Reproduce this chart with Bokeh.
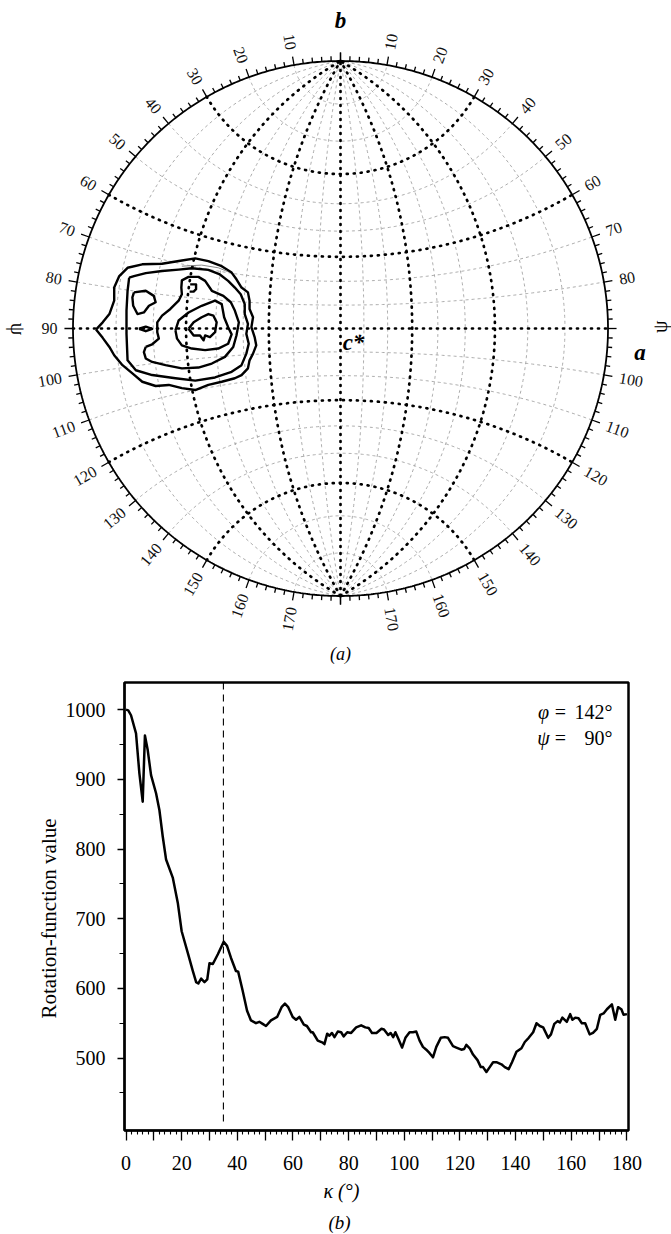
import numpy as np
from bokeh.plotting import figure
from bokeh.models import Label, FixedTicker, Range1d, Title
from bokeh.embed import file_html
from bokeh.resources import INLINE
from bokeh.core.properties import value

SERIF = "Liberation Serif"

# ---------------- (a) stereographic section : data ----------------
rim_labels = [10, 20, 30, 40, 50, 60, 70, 80, 90, 100, 110, 120, 130, 140, 150, 160, 170]
rim_major = list(range(0, 181, 10))
rim_minor = [t for t in range(0, 181, 2) if t % 10]
bold_meridians = [-60, -30, 0, 30, 60]
bold_parallels = [30, 60, 90, 120, 150]
fine_meridians = [m for m in range(-80, 81, 10) if m not in bold_meridians]
fine_parallels = [a for a in range(10, 171, 10) if a not in bold_parallels]

# contour traces (projection coordinates, primitive radius = 1)
c1_x = [-0.914, -0.889, -0.864, -0.846, -0.846, -0.827, -0.796, -0.741, -0.667, -0.593, -0.543, -0.494,
        -0.444, -0.407, -0.389, -0.370, -0.346, -0.340, -0.340, -0.327, -0.333, -0.321, -0.315, -0.327,
        -0.340, -0.346, -0.370, -0.395, -0.444, -0.494, -0.543, -0.593, -0.642, -0.691, -0.741, -0.778,
        -0.815, -0.846, -0.864, -0.889]
c1_y = [-0.004, 0.023, 0.054, 0.104, 0.153, 0.196, 0.227, 0.240, 0.242, 0.254, 0.262, 0.252,
        0.233, 0.209, 0.184, 0.153, 0.135, 0.104, 0.073, 0.042, 0.005, -0.032, -0.063, -0.094,
        -0.119, -0.149, -0.174, -0.186, -0.199, -0.211, -0.230, -0.223, -0.211, -0.215, -0.199, -0.168,
        -0.137, -0.100, -0.069, -0.035]
c2_x = [-0.790, -0.796, -0.800, -0.800, -0.796, -0.765, -0.704, -0.617, -0.543, -0.469, -0.407, -0.370,
        -0.352, -0.343, -0.352, -0.346, -0.358, -0.358, -0.373, -0.395, -0.420, -0.451, -0.494, -0.556,
        -0.605, -0.667, -0.728, -0.772]
c2_y = [0.190, 0.141, 0.067, -0.020, -0.119, -0.156, -0.174, -0.186, -0.195, -0.183, -0.162, -0.137,
        -0.094, -0.057, -0.020, 0.017, 0.054, 0.091, 0.128, 0.153, 0.178, 0.202, 0.219, 0.225,
        0.220, 0.215, 0.207, 0.196]
c3_x = [-0.728, -0.735, -0.728, -0.704, -0.654, -0.593, -0.531, -0.481, -0.432, -0.401, -0.389, -0.380,
        -0.395, -0.410, -0.438, -0.481, -0.506, -0.531, -0.568, -0.593, -0.595, -0.593, -0.605, -0.636,
        -0.667, -0.685, -0.685, -0.679, -0.704]
c3_y = [-0.069, -0.088, -0.112, -0.125, -0.137, -0.149, -0.146, -0.131, -0.106, -0.069, -0.026, 0.023,
        0.067, 0.098, 0.122, 0.141, 0.178, 0.193, 0.193, 0.180, 0.153, 0.128, 0.104, 0.073,
        0.048, 0.023, -0.014, -0.038, -0.059]
c4_x = [-0.617, -0.605, -0.568, -0.519, -0.469, -0.444, -0.435, -0.420, -0.407, -0.420, -0.457, -0.506,
        -0.556, -0.593, -0.611]
c4_y = [-0.007, 0.030, 0.060, 0.085, 0.104, 0.091, 0.042, 0.005, -0.022, -0.057, -0.075, -0.081,
        -0.075, -0.063, -0.038]
c5_x = [-0.568, -0.549, -0.519, -0.494, -0.475, -0.463, -0.469, -0.488, -0.506, -0.512, -0.525, -0.549]
c5_y = [-0.001, 0.023, 0.042, 0.054, 0.048, 0.023, -0.014, -0.032, -0.026, -0.044, -0.026, -0.026]
island_x = [-0.772, -0.728, -0.698, -0.691, -0.716, -0.735, -0.759, -0.775, -0.778]
island_y = [0.135, 0.141, 0.122, 0.098, 0.085, 0.060, 0.054, 0.085, 0.116]
diamond_x = [-0.753, -0.728, -0.704, -0.728]
diamond_y = [-0.001, 0.007, -0.001, -0.010]
hook_x = [-0.562, -0.540, -0.540, -0.549, -0.564]
hook_y = [0.165, 0.165, 0.147, 0.138, 0.138]
faint_x = [-0.593, -0.519, -0.457, -0.420]
faint_y = [0.233, 0.237, 0.227, 0.212]

# ---------------- (b) rotation function : data ----------------
kappa = [0, 0.8, 1.8, 3.6, 4.8, 6.0, 6.8, 7.8, 9.0, 10.8, 12.0, 13.2, 14.4, 16.8, 18.6, 20.0, 22.2, 24.0,
         25.2, 26.0, 27.0, 28.2, 29.2, 30.0, 31.2, 33.0, 35.1, 36.3, 37.7, 39.5, 40.3, 41.9, 43.5, 44.9,
         46.7, 47.9, 49.1, 50.3, 52.1, 54.3, 55.9, 57.1, 58.3, 59.9, 61.1, 62.3, 63.9, 65.0, 66.5,
         67.1, 68.9, 70.7, 71.3, 72.3, 73.1, 74.0, 74.9, 76.1, 77.3, 78.2, 79.5, 80.9, 82.7, 84.5, 86.0,
         87.2, 88.4, 90.0, 91.8, 92.7, 94.2, 95.1, 96.0, 96.8, 97.7, 99.2, 100.4, 101.9, 103.1, 104.3,
         105.5, 106.7, 107.9, 109.1, 110.3, 111.5, 113.1, 114.5, 115.7, 117.5, 118.7, 120.5, 121.5, 122.3,
         123.5, 124.7, 126.3, 127.5, 128.3, 129.5, 130.7, 131.9, 133.1, 134.9, 136.1, 137.5, 138.7, 140.3,
         142.1, 143.3, 144.7, 146.3, 147.5, 148.7, 149.9, 151.7, 152.7, 153.9, 155.1, 155.9, 156.8, 158.4,
         159.6, 160.4, 161.4, 162.6, 163.8, 165.0, 166.6, 167.8, 169.2, 170.4, 171.6, 172.8, 174.6, 175.8,
         176.8, 178.0, 178.8, 180.0]
rf_value = [1000, 999, 992, 966, 909, 868, 963, 942, 906, 880, 856, 818, 785, 759, 723, 682, 651, 625,
            609, 607, 614, 609, 613, 636, 635, 649, 667, 661, 644, 625, 624, 597, 568, 554,
            550, 552, 549, 546, 554, 559, 573, 578, 573, 559, 555, 559, 548, 546, 537,
            537, 525, 522, 520, 535, 532, 536, 530, 538, 537, 531, 537, 536, 544, 547, 544,
            543, 536, 536, 542, 541, 533, 536, 530, 537, 529, 515, 529, 537, 537, 538,
            525, 516, 512, 507, 501, 516, 529, 530, 529, 517, 515, 512, 513, 519,
            514, 505, 497, 487, 487, 480, 487, 494, 494, 491, 487, 484, 494, 509,
            514, 523, 529, 537, 550, 546, 544, 529, 534, 549, 553, 551, 558, 552,
            563, 555, 558, 557, 550, 550, 534, 536, 542, 562, 564, 570, 577, 555,
            573, 570, 562, 563]
phi_value = 142
psi_value = 90
kappa_marker = 35
x_major = list(range(0, 181, 10))
x_minor = list(range(0, 181, 2))
y_major = [500, 600, 700, 800, 900, 1000]
y_minor = [450, 550, 650, 750, 850, 950]

# ---------------- projection helpers ----------------
def stereo(x, y, z):
    return x / (1 + z), y / (1 + z)

def meridian(lam):
    ph = np.radians(np.linspace(-90, 90, 241))
    l = np.radians(lam)
    return stereo(np.cos(ph) * np.sin(l), np.sin(ph), np.cos(ph) * np.cos(l))

def parallel(alpha):
    t = np.radians(np.linspace(-90, 90, 241))
    a = np.radians(alpha)
    return stereo(np.sin(a) * np.sin(t), np.cos(a) * np.ones_like(t), np.sin(a) * np.cos(t))

def curves(mers, pars):
    xs, ys = [], []
    for m in mers:
        x, y = meridian(m); xs.append(list(x)); ys.append(list(y))
    for a in pars:
        x, y = parallel(a); xs.append(list(x)); ys.append(list(y))
    return xs, ys

# ---------------- figure (a) ----------------
S = 267.5
p1 = figure(width=671, height=670, x_range=Range1d(-340 / S, 331 / S), y_range=Range1d(-342 / S, 328 / S),
            output_backend="svg", toolbar_location=None, x_axis_location=None, y_axis_location=None,
            min_border=0)
p1.grid.visible = False
p1.outline_line_color = None

fx, fy = curves(fine_meridians, fine_parallels)
p1.multi_line(fx, fy, line_color="#a3a3a3", line_width=0.9, line_dash="3 3")
bx, by = curves(bold_meridians, bold_parallels)
p1.multi_line(bx, by, line_color="black", line_width=2.7, line_dash="1 6", line_cap="round")

th = np.radians(np.linspace(0, 360, 721))
p1.line(np.sin(th), np.cos(th), line_color="black", line_width=1.8)

def ticks(vals, length):
    t = np.radians(np.array(vals, dtype=float))
    x0, y0, x1, y1 = [], [], [], []
    for side in (-1, 1):
        x0 += list(side * np.sin(t)); y0 += list(np.cos(t))
        x1 += list(side * np.sin(t) * (1 + length)); y1 += list(np.cos(t) * (1 + length))
    return x0, y0, x1, y1

for vals, ln in ((rim_major, 0.032), (rim_minor, 0.018)):
    x0, y0, x1, y1 = ticks(vals, ln)
    p1.segment(x0, y0, x1, y1, line_color="black", line_width=1.3)

RL = 1.058
lt = np.radians(np.array(rim_labels, dtype=float))
p1.text(x=list(-RL * np.sin(lt)), y=list(RL * np.cos(lt)), text=[str(v) for v in rim_labels],
        angle=[v - 90 for v in rim_labels], angle_units="deg", text_align="right", text_baseline="middle",
        text_font=value(SERIF), text_font_size="16px", text_color="#111111")
right_labels = [v for v in rim_labels if v != 90]
rt = np.radians(np.array(right_labels, dtype=float))
p1.text(x=list(RL * np.sin(rt)), y=list(RL * np.cos(rt)), text=[str(v) for v in right_labels],
        angle=[90 - v for v in right_labels], angle_units="deg", text_align="left", text_baseline="middle",
        text_font=value(SERIF), text_font_size="16px", text_color="#111111")

def closed(a):
    return list(a) + [a[0]]

cx = [closed(c1_x), closed(c2_x), closed(c3_x), closed(c4_x), closed(c5_x), closed(island_x),
      closed(diamond_x), list(hook_x)]
cy = [closed(c1_y), closed(c2_y), closed(c3_y), closed(c4_y), closed(c5_y), closed(island_y),
      closed(diamond_y), list(hook_y)]
p1.multi_line(cx, cy, line_color="black", line_width=2.4, line_join="round")
p1.line(faint_x, faint_y, line_color="#888888", line_width=1.0)

def lab(p, x, y, t, size, style="normal", align="center", baseline="middle", angle=0.0):
    p.add_layout(Label(x=x, y=y, text=t, text_font=SERIF, text_font_size=size, text_font_style=style,
                       text_align=align, text_baseline=baseline, angle=angle, text_color="black"))

lab(p1, 0.0, 1.151, "b", "23px", "bold italic", baseline="alphabetic")
lab(p1, 1.12, -0.09, "a", "23px", "bold italic", baseline="alphabetic")
lab(p1, 0.008, -0.052, "c*", "23px", "bold italic", align="left", baseline="alphabetic")
lab(p1, -1.2056, -0.002, "ψ", "20px", angle=-np.pi / 2)
lab(p1, 1.196, 0.007, "ψ", "20px", angle=np.pi / 2)
lab(p1, 0.0, -1.215, "(a)", "18px", "italic")

# ---------------- figure (b) ----------------
p2 = figure(width=671, height=564, x_range=Range1d(-0.54, 180.56), y_range=Range1d(396, 1039),
            output_backend="svg", toolbar_location=None, min_border_left=124, min_border_right=43,
            min_border_top=12, min_border_bottom=102)
p2.grid.visible = False
p2.outline_line_color = "black"
p2.outline_line_width = 2.5
p2.title.visible = False

p2.xaxis.ticker = FixedTicker(ticks=x_major, minor_ticks=x_minor)
p2.xaxis.major_label_overrides = {t: "" for t in x_major if t % 20}
p2.yaxis.ticker = FixedTicker(ticks=y_major, minor_ticks=y_minor)
for ax, mj, mn, so in ((p2.xaxis, 10, 4, 15), (p2.yaxis, 7, 5, 12)):
    ax.major_tick_out = mj
    ax.major_tick_in = 0
    ax.minor_tick_out = mn
    ax.minor_tick_in = 0
    ax.axis_line_color = "black"
    ax.axis_line_width = 2
    ax.major_tick_line_color = "black"
    ax.minor_tick_line_color = "black"
    ax.major_tick_line_width = 1.3
    ax.minor_tick_line_width = 1.1
    ax.major_label_text_font = SERIF
    ax.major_label_text_font_size = "20px"
    ax.major_label_text_color = "black"
    ax.major_label_standoff = so

p2.line(kappa, rf_value, line_color="black", line_width=2.5, line_join="round")
p2.segment(x0=[kappa_marker], y0=[409], x1=[kappa_marker], y1=[1039], line_color="black",
           line_width=1.1, line_dash="7 5")

lab(p2, 150.0, 996, "φ", "20px", "italic")
lab(p2, 156.1, 996, "=", "20px")
lab(p2, 174.8, 996, f"{phi_value}°", "20px", align="right")
lab(p2, 150.0, 960, "ψ", "20px", "italic")
lab(p2, 156.1, 960, "=", "20px")
lab(p2, 174.8, 960, f"{psi_value}°", "20px", align="right")

def title(p, text, loc, size, style, offset, standoff):
    t = Title(text=text, align="left", text_font=SERIF, text_font_size=size, text_font_style=style,
              text_color="black", offset=offset, standoff=standoff)
    p.add_layout(t, loc)

title(p2, "Rotation-function value", "left", "21px", "normal", 112, 4)
title(p2, "κ (°)", "below", "20px", "italic", 199, 11)
title(p2, "(b)", "below", "19px", "italic", 204, 4)

open("out.html", "w").write(file_html([p1, p2], INLINE))
